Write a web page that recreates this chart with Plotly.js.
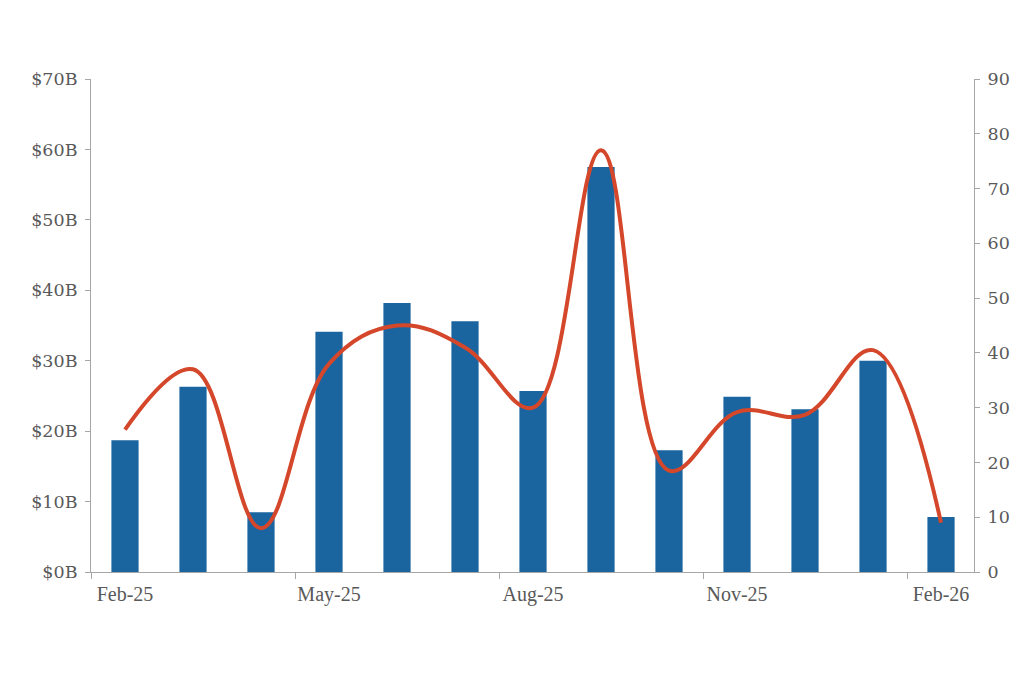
<!DOCTYPE html>
<html>
<head>
<meta charset="utf-8">
<script src="https://cdn.plot.ly/plotly-3.0.1.min.js"></script>
<style>html,body{margin:0;padding:0;background:#fff;}#chart{width:1024px;height:683px;}</style>
</head>
<body>
<div id="chart"></div>
<script>
const months = ["Feb-25","Mar-25","Apr-25","May-25","Jun-25","Jul-25","Aug-25","Sep-25","Oct-25","Nov-25","Dec-25","Jan-26","Feb-26"];
const valueB = [18.7, 26.3, 8.5, 34.1, 38.2, 35.6, 25.7, 57.5, 17.3, 24.9, 23.1, 30.0, 7.8];
const countVals = [26, 37, 8, 38, 45, 41, 30, 77, 18.5, 29.2, 28.7, 40.5, 9];
const xTickLabels = ["Feb-25","May-25","Aug-25","Nov-25","Feb-26"];
const leftTicks = [0,10,20,30,40,50,60,70];
const leftTickText = leftTicks.map(v => "$" + v + "B");
const rightTicks = [0,10,20,30,40,50,60,70,80,90];

const tickColor = "#595959";
const axisColor = "#a6a6a6";

const traces = [
  {
    type: "bar", x: months, y: valueB, width: 0.4,
    marker: {color: "#1a65a0"}, hoverinfo: "x+y", showlegend: false
  },
  {
    type: "scatter", mode: "lines", x: months, y: countVals, yaxis: "y2",
    line: {color: "#d5472a", width: 4, shape: "spline", smoothing: 1.1},
    showlegend: false
  }
];

const layout = {
  width: 1024, height: 683,
  margin: {l: 91, r: 50, t: 79, b: 111},
  paper_bgcolor: "#fff", plot_bgcolor: "#fff",
  xaxis: {
    type: "category", range: [-0.5, 12.485],
    tickmode: "array", tickvals: xTickLabels, ticktext: xTickLabels,
    tickson: "boundaries", tickangle: 0,
    ticks: "outside", ticklen: 6, tickcolor: axisColor, ticklabelstandoff: 4,
    showline: true, linecolor: axisColor, linewidth: 1,
    showgrid: false, zeroline: false,
    tickfont: {family: "Liberation Serif", size: 20, color: tickColor}
  },
  yaxis: {
    range: [0, 70], tickvals: leftTicks, ticktext: leftTickText,
    ticks: "outside", ticklen: 5, tickcolor: axisColor, ticklabelstandoff: 4,
    showline: true, linecolor: axisColor, linewidth: 1,
    showgrid: false, zeroline: false,
    tickfont: {family: "DejaVu Serif", size: 17.5, color: tickColor}
  },
  yaxis2: {
    range: [0, 90], tickvals: rightTicks, overlaying: "y", side: "right",
    ticks: "outside", ticklen: 5, tickcolor: axisColor, ticklabelstandoff: 4,
    showline: true, linecolor: axisColor, linewidth: 1,
    showgrid: false, zeroline: false,
    tickfont: {family: "DejaVu Serif", size: 17.5, color: tickColor}
  }
};

Plotly.newPlot("chart", traces, layout, {displayModeBar: false, staticPlot: true});
</script>
</body>
</html>
